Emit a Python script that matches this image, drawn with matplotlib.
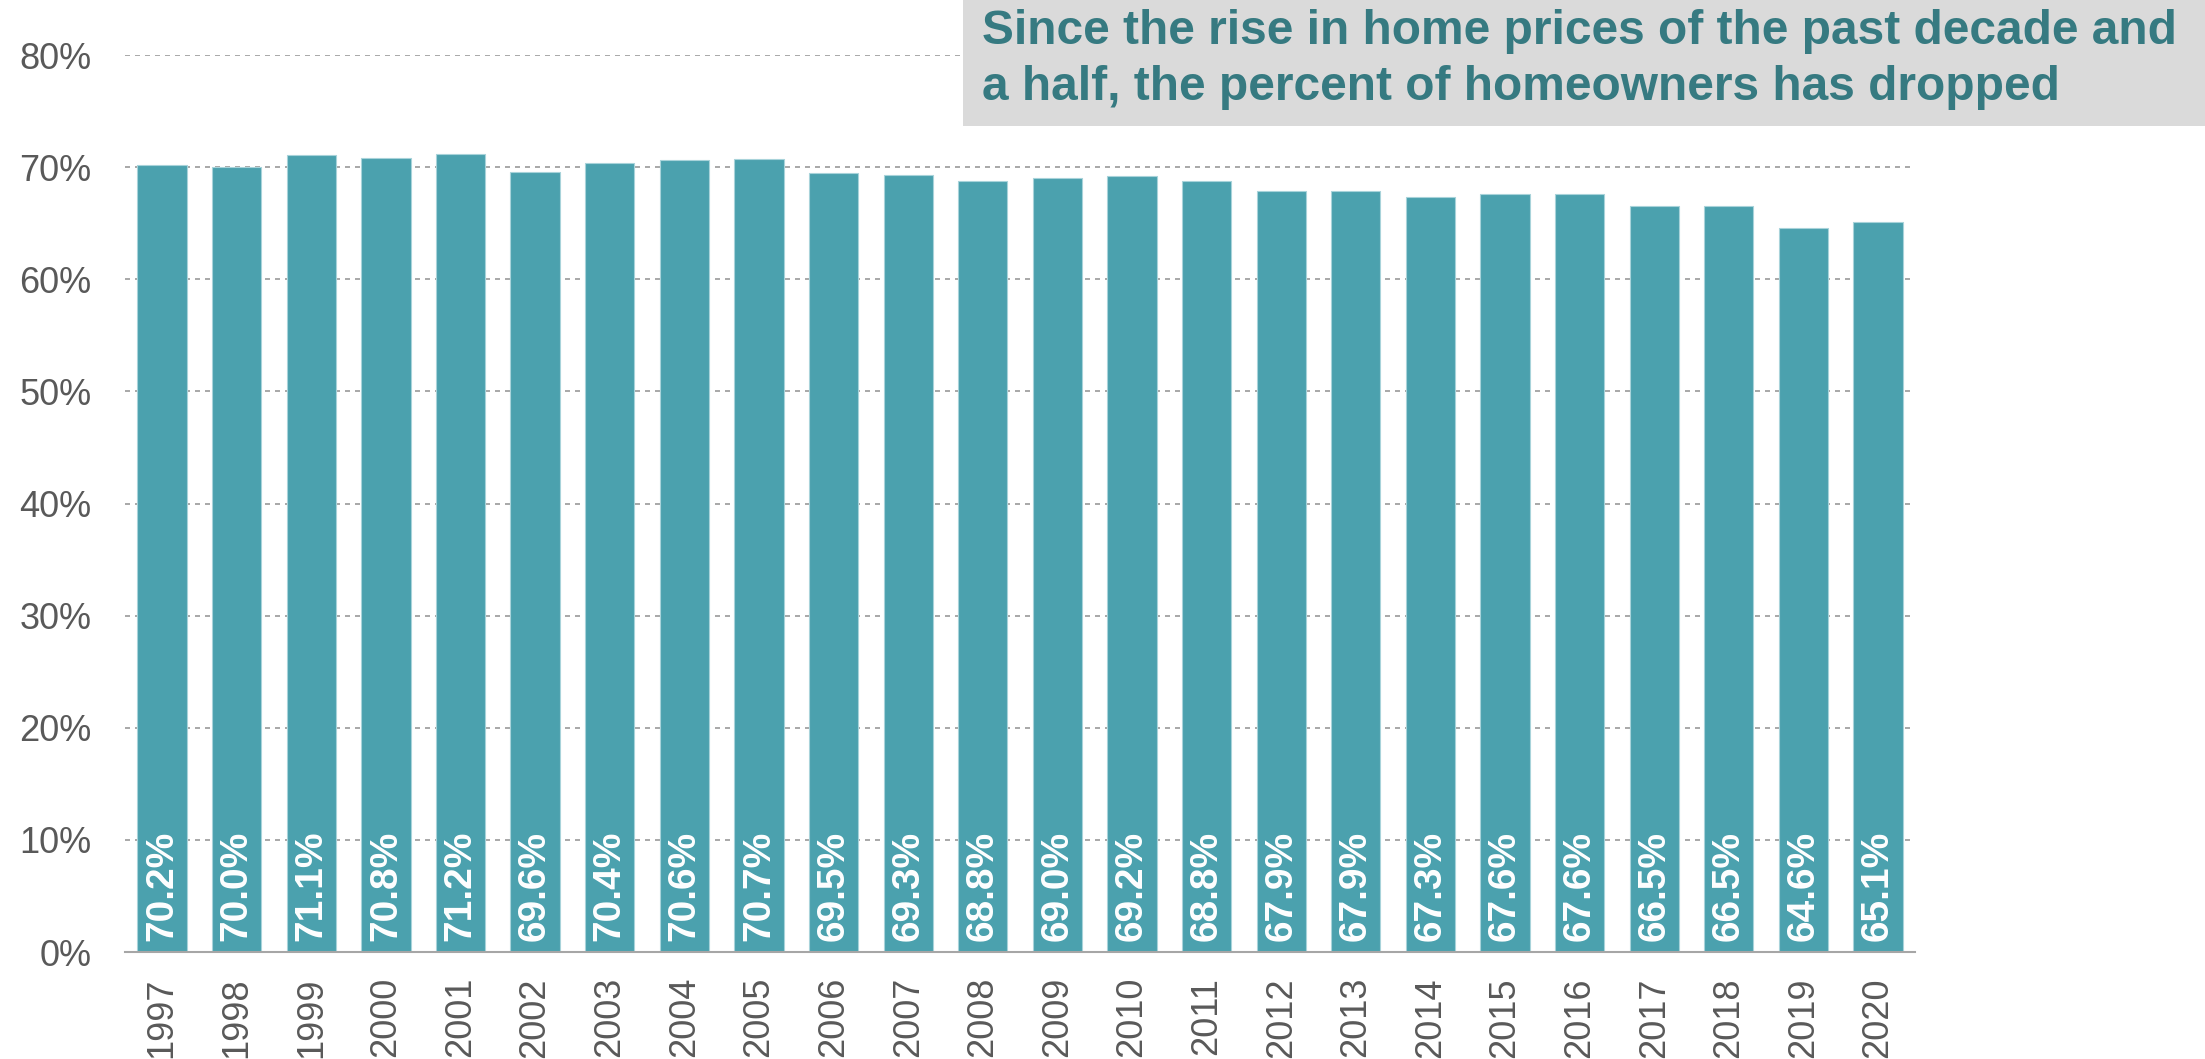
import matplotlib.pyplot as plt
from matplotlib.patches import Rectangle
from matplotlib.ticker import PercentFormatter

plt.rcParams['font.family'] = ['Liberation Sans', 'DejaVu Sans']

years = [str(y) for y in range(1997, 2021)]
rates = [70.2, 70.0, 71.1, 70.8, 71.2, 69.6, 70.4, 70.6, 70.7, 69.5, 69.3, 68.8,
         69.0, 69.2, 68.8, 67.9, 67.9, 67.3, 67.6, 67.6, 66.5, 66.5, 64.6, 65.1]
title = ('Since the rise in home prices of the past decade and\n'
         'a half, the percent of homeowners has dropped')

bar_color = '#4BA1AE'
text_gray = '#595959'

fig = plt.figure(figsize=(22.05, 10.59), dpi=100)
ax = fig.add_axes([0.0566, 0.101, 0.812, 0.847])

x = range(len(years))
ax.bar(x, rates, width=0.66, color=bar_color, edgecolor='#A8D3DA', linewidth=0.8, zorder=2)

for i, v in zip(x, rates):
    ax.text(i, 1.0, f'{v:.1f}%', rotation=90, ha='center', va='bottom',
            color='white', fontsize=28, fontweight='bold', zorder=3)

ax.set_xlim(-0.5, len(years) - 0.5)
ax.set_ylim(0, 80)
ax.set_yticks(range(0, 81, 10))
ax.yaxis.set_major_formatter(PercentFormatter(decimals=0))
ax.set_xticks(list(x))
ax.set_xticklabels(years, rotation=90)

ax.grid(axis='y', color='#999999', linestyle=(0, (3, 3)), linewidth=1.2, zorder=0)
ax.set_axisbelow(True)
for s in ['top', 'right', 'left']:
    ax.spines[s].set_visible(False)
ax.spines['bottom'].set_color('#A6A6A6')
ax.spines['bottom'].set_linewidth(1.5)
ax.tick_params(axis='y', length=0, pad=24, labelsize=26, labelcolor=text_gray)
ax.tick_params(axis='x', length=0, pad=18, labelsize=26, labelcolor=text_gray)

# title box in the top right corner
fig.patches.append(Rectangle((963 / 2205, 1 - 126 / 1059), 1, 126 / 1059,
                             transform=fig.transFigure, facecolor='#DADADA',
                             edgecolor='none', zorder=5))
fig.text(982 / 2205, 1 - 9 / 1059, title, ha='left', va='top', fontsize=34.5,
         fontweight='bold', color='#367A81', linespacing=1.32, zorder=6)

plt.savefig('out.png', dpi=100)
